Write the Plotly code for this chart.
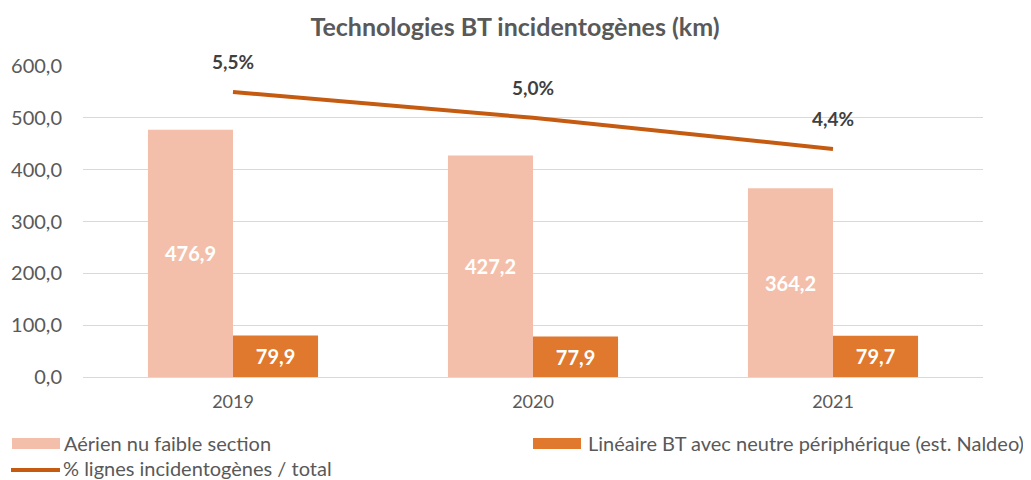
import plotly.graph_objects as go

years = ["2019", "2020", "2021"]
aerien = [476.9, 427.2, 364.2]
lineaire = [79.9, 77.9, 79.7]
pct = [5.5, 5.0, 4.4]
y_ticks = [0, 100, 200, 300, 400, 500, 600]
y_tick_labels = ["0,0", "100,0", "200,0", "300,0", "400,0", "500,0", "600,0"]
names = ["Aérien nu faible section",
         "Linéaire BT avec neutre périphérique (est. Naldeo)",
         "% lignes incidentogènes / total"]

def fr(v, d=1):
    return f"{v:.{d}f}".replace(".", ",")

FONT = "Lato"
GRAY = "#595959"
C_LIGHT = "#F4BFAA"
C_DARK = "#E0782E"
C_LINE = "#C55A11"

# page is drawn with an 8px body margin; work in page pixels, convert to figure pixels
OFF = 8
W, H = 1031 - OFF, 480 - OFF
PL, PR, PT, PB = 83, 983, 66, 377          # plot area in page pixels
ML, MT = PL - OFF, PT - OFF
MR, MB = W - (PR - OFF), H - (PB - OFF)
PW, PH = PR - PL, PB - PT

def px(x):
    return (x - PL) / PW

def py(y):
    return (PB - y) / PH

fig = go.Figure()
fig.add_trace(go.Bar(
    x=years, y=aerien, name=names[0],
    marker=dict(color=C_LIGHT, line=dict(width=0)),
    text=[fr(v) for v in aerien], textposition="inside", insidetextanchor="middle",
    textfont=dict(color="white", size=20, family=FONT, weight="bold"),
    textangle=0, showlegend=False,
))
fig.add_trace(go.Bar(
    x=years, y=lineaire, name=names[1],
    marker=dict(color=C_DARK, line=dict(width=0)),
    text=[fr(v) for v in lineaire], textposition="inside", insidetextanchor="middle",
    textfont=dict(color="white", size=20, family=FONT, weight="bold"),
    textangle=0, showlegend=False,
))
fig.add_trace(go.Scatter(
    x=years, y=pct, name=names[2], yaxis="y2",
    mode="lines", line=dict(color=C_LINE, width=4), showlegend=False,
))
for i, v in enumerate(pct):
    fig.add_annotation(x=i, y=v, xref="x", yref="y2", text=fr(v) + "%", showarrow=False,
                       yshift=30, font=dict(size=19, color="#404040", family=FONT, weight="bold"))

# legend (manual, to match the wide swatches)
legend_items = [
    (names[0], C_LIGHT, "rect", 12, 62, 443),
    (names[1], C_DARK, "rect", 533, 586, 443),
    (names[2], C_LINE, "line", 11, 61, 468),
]
for name, color, kind, x0, xt, yc in legend_items:
    if kind == "rect":
        fig.add_shape(type="rect", xref="paper", yref="paper",
                      x0=px(x0), x1=px(x0 + 48), y0=py(yc + 6), y1=py(yc - 5),
                      fillcolor=color, line=dict(width=0))
    else:
        fig.add_shape(type="line", xref="paper", yref="paper",
                      x0=px(x0), x1=px(x0 + 49), y0=py(yc + 2), y1=py(yc + 2),
                      line=dict(color=color, width=4))
    fig.add_annotation(xref="paper", yref="paper", x=px(xt), y=py(yc),
                       xanchor="left", yanchor="middle", text=name, showarrow=False,
                       font=dict(size=20, color=GRAY, family=FONT))

fig.update_layout(
    width=W, height=H,
    margin=dict(l=ML, r=MR, t=MT, b=MB, autoexpand=False),
    paper_bgcolor="white", plot_bgcolor="white",
    font=dict(family=FONT, color=GRAY, size=19),
    title=dict(text="Technologies BT incidentogènes (km)", x=(515 - OFF) / W, xanchor="center",
               y=1 - (27 - OFF) / H, yanchor="middle", xref="container", yref="container",
               font=dict(size=25, color=GRAY, family=FONT, weight="bold")),
    barmode="group", bargap=0.433, bargroupgap=0,
    xaxis=dict(type="category", range=[-0.5, 2.5], showgrid=False, showline=False, ticks="",
               ticklabelstandoff=12, tickfont=dict(size=18, color=GRAY)),
    yaxis=dict(range=[0, 600], tickvals=y_ticks, ticktext=y_tick_labels,
               showgrid=True, gridcolor="#D9D9D9", gridwidth=1,
               zeroline=True, zerolinecolor="#D9D9D9", zerolinewidth=1,
               ticks="", ticklabelstandoff=20, tickfont=dict(size=20, color=GRAY)),
    yaxis2=dict(range=[0, 6], overlaying="y", side="right", visible=False),
    showlegend=False,
)

fig.write_html("out.html")
